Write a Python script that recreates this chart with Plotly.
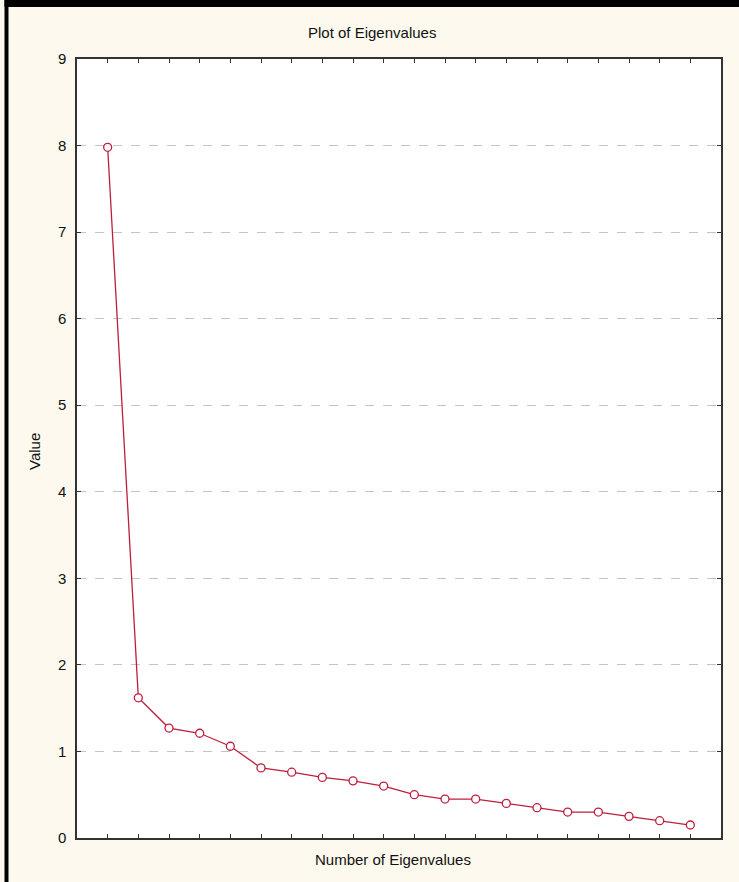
import plotly.graph_objects as go

# Scree plot data: eigenvalues of the correlation matrix, in decreasing order
component = list(range(1, 21))
eigenvalue = [7.98, 1.62, 1.27, 1.21, 1.06, 0.81, 0.76, 0.70, 0.66, 0.60,
              0.50, 0.45, 0.45, 0.40, 0.35, 0.30, 0.30, 0.25, 0.20, 0.15]

title_text = "Plot of Eigenvalues"
x_title = "Number of Eigenvalues"
y_title = "Value"

W, H = 739, 882
M_L, M_R, M_T, M_B = 77, 18, 59, 44
PW, PH = W - M_L - M_R, H - M_T - M_B


def px_x(px):
    """Pixel column -> paper x coordinate."""
    return (px - M_L) / PW


def px_y(py):
    """Pixel row (from top) -> paper y coordinate."""
    return (H - M_B - py) / PH


RED = "#BE1E3C"
AXIS = "#333333"
FONT = "Liberation Sans, Arial, sans-serif"

fig = go.Figure()
fig.add_trace(go.Scatter(
    x=component, y=eigenvalue,
    mode="lines+markers",
    line=dict(color=RED, width=1.3),
    marker=dict(symbol="circle", size=8, color="white",
                line=dict(color=RED, width=1.3)),
    cliponaxis=False,
    showlegend=False,
))

axis_common = dict(
    showline=True, linecolor=AXIS, linewidth=1.5, mirror="ticks",
    ticks="inside", ticklen=4, tickwidth=1.2, tickcolor=AXIS,
    zeroline=False,
)

fig.update_xaxes(
    range=[0, 21], tick0=0, dtick=1, showticklabels=False,
    showgrid=False, **axis_common,
)
fig.update_yaxes(
    range=[0, 9], tick0=0, dtick=1,
    showgrid=True, gridcolor="#C4C4C4", griddash="dash", gridwidth=1,
    tickfont=dict(family=FONT, size=15, color="#111111"),
    ticklabelstandoff=6,
    **axis_common,
)

fig.update_layout(
    width=W, height=H,
    margin=dict(l=M_L, r=M_R, t=M_T, b=M_B),
    paper_bgcolor="#FDF9EE",
    plot_bgcolor="white",
    font=dict(family=FONT, color="#111111"),
    annotations=[
        dict(text=title_text, xref="paper", yref="paper",
             x=px_x(372), y=px_y(32), xanchor="center", yanchor="middle",
             showarrow=False, font=dict(size=15, family=FONT)),
        dict(text=x_title, xref="paper", yref="paper",
             x=px_x(393), y=px_y(860), xanchor="center", yanchor="middle",
             showarrow=False, font=dict(size=15, family=FONT)),
        dict(text=y_title, xref="paper", yref="paper", textangle=-90,
             x=px_x(34), y=px_y(452), xanchor="center", yanchor="middle",
             showarrow=False, font=dict(size=15, family=FONT)),
    ],
    shapes=[
        # dark frame along the top and left edges of the window
        dict(type="rect", xref="paper", yref="paper", layer="above",
             x0=px_x(4.5), x1=px_x(W), y0=px_y(7), y1=px_y(0),
             fillcolor="black", line=dict(width=0)),
        dict(type="rect", xref="paper", yref="paper", layer="above",
             x0=px_x(4.5), x1=px_x(8.5), y0=px_y(H), y1=px_y(0),
             fillcolor="black", line=dict(width=0)),
    ],
)

fig.write_html("out.html")
